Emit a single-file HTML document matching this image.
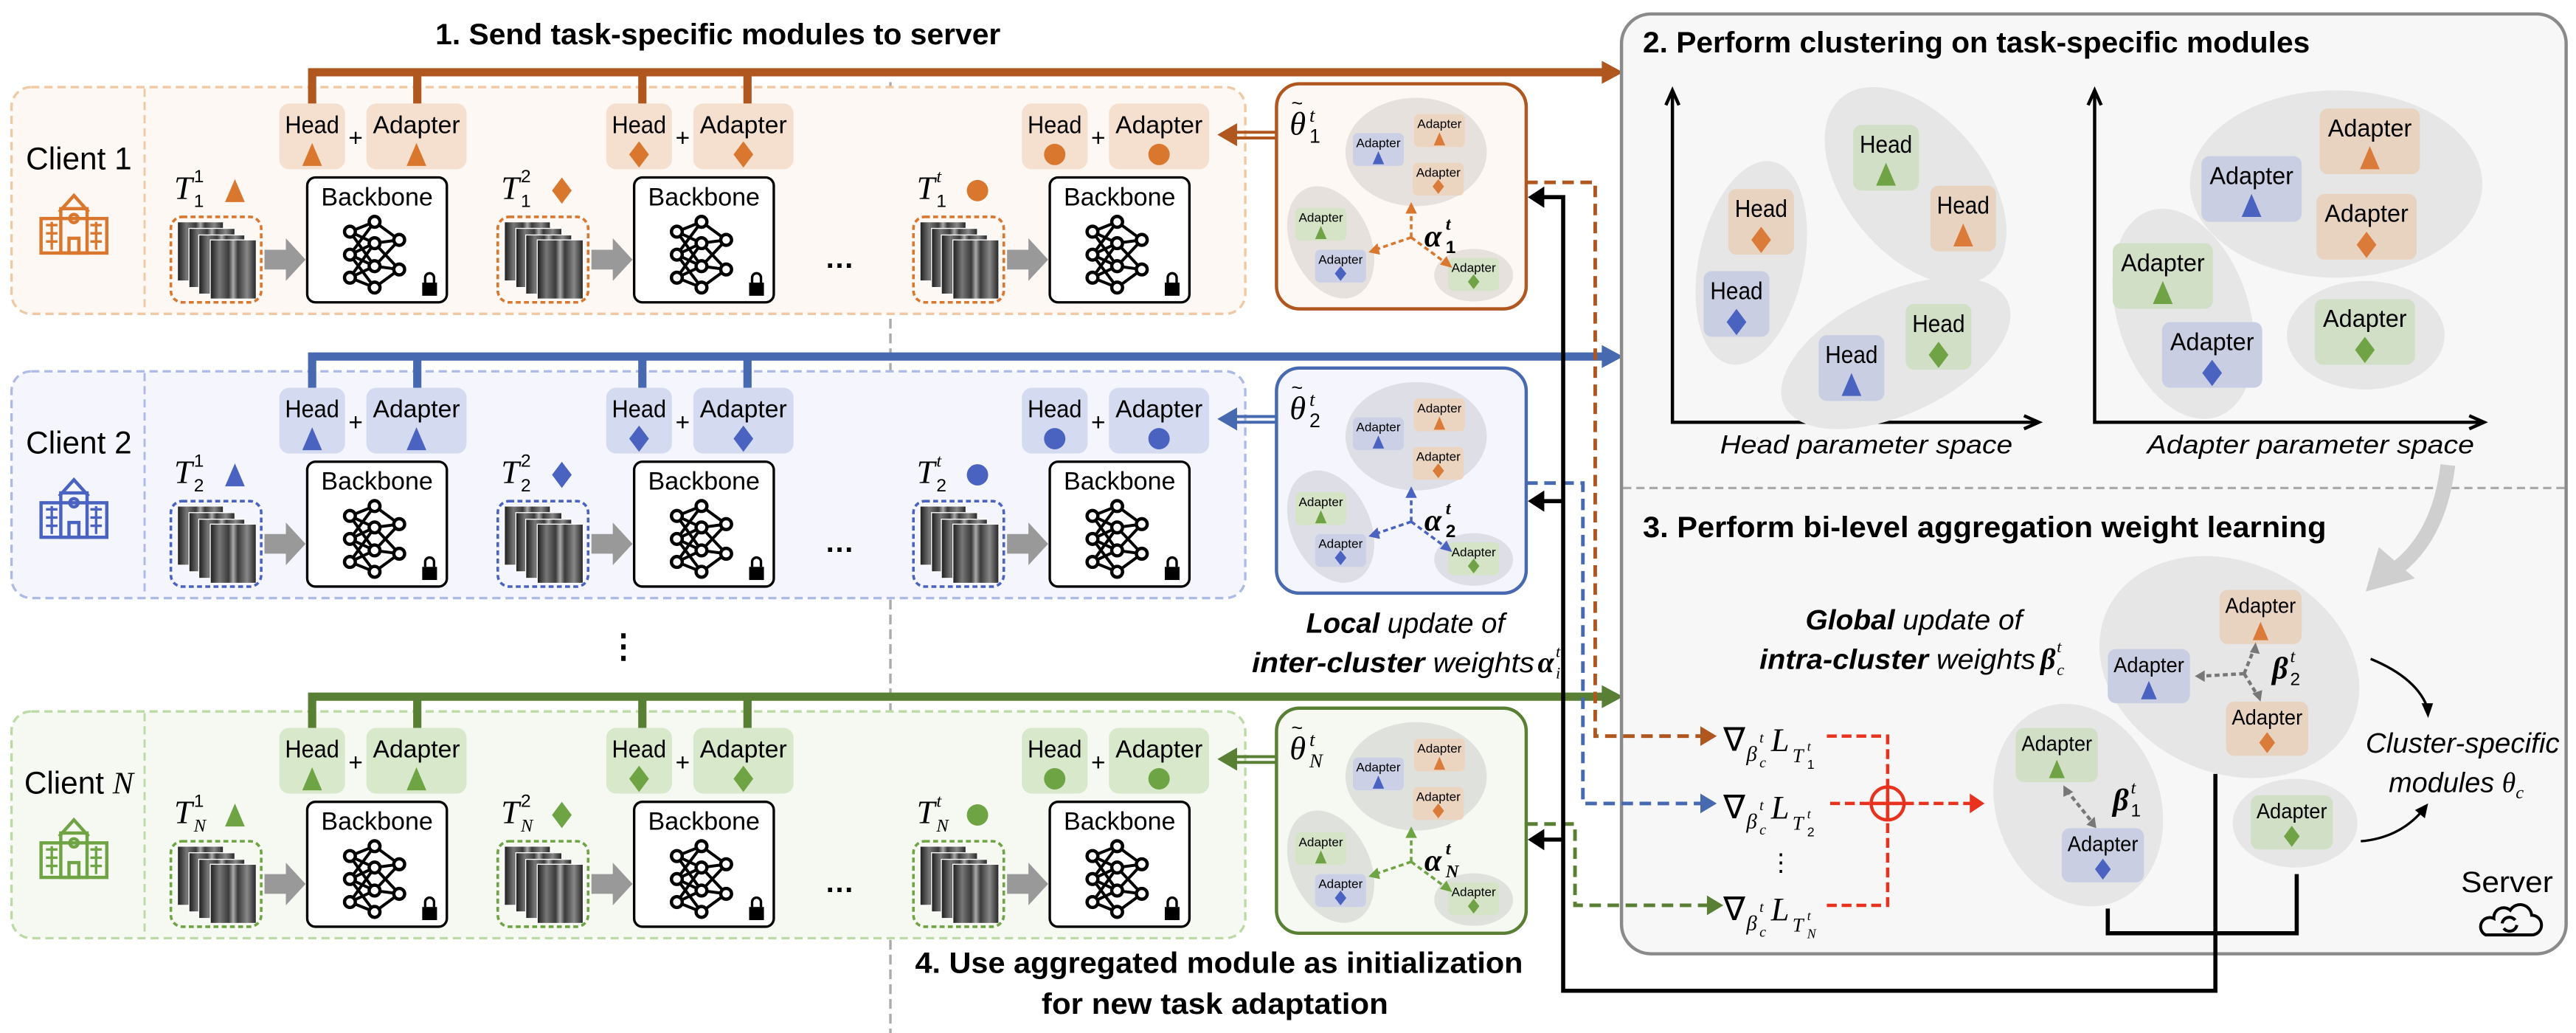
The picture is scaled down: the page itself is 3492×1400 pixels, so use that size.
<!DOCTYPE html>
<html><head><meta charset="utf-8"><style>
html,body{margin:0;padding:0;background:#fff;}
svg{display:block;}
text{font-family:"Liberation Sans",sans-serif;fill:#000;}
.s{font-family:"Liberation Serif",serif;font-style:italic;}
</style></head><body>
<svg xmlns="http://www.w3.org/2000/svg" width="3492" height="1400" viewBox="0 0 1568 628.7" preserveAspectRatio="none">
<defs>
<linearGradient id="xr" x1="0" y1="0" x2="1" y2="0">
<stop offset="0" stop-color="#1a1a1a"/><stop offset="0.2" stop-color="#777"/><stop offset="0.4" stop-color="#3a3a3a"/><stop offset="0.5" stop-color="#aaa"/><stop offset="0.6" stop-color="#3a3a3a"/><stop offset="0.8" stop-color="#888"/><stop offset="1" stop-color="#222"/>
</linearGradient>
<path id="tri" d="M0 -7 L6 7 L-6 7Z"/>
<path id="dia" d="M0 -8 L6 0 L0 8 L-6 0Z"/>
<path id="stri" d="M0 -4 L3.5 4 L-3.5 4Z"/>
<path id="sdia" d="M0 -4.5 L3.5 0 L0 4.5 L-3.5 0Z"/>
<g id="net" stroke="#000" stroke-width="1.8" fill="none">
<path d="M-16 -14 L-1 -20 M-16 -14 L-1 -7 M-16 -14 L-1 7 M-16 0 L-1 -20 M-16 0 L-1 -7 M-16 0 L-1 7 M-16 0 L-1 20 M-16 14 L-1 7 M-16 14 L-1 20 M-16 14 L-1 -7 M-1 -20 L14 -9 M-1 -7 L14 -9 M-1 -7 L14 9 M-1 7 L14 -9 M-1 7 L14 9 M-1 20 L14 9"/>
<g fill="#fff" stroke-width="2"><circle cx="-16" cy="-14" r="3.3"/><circle cx="-16" cy="0" r="3.3"/><circle cx="-16" cy="14" r="3.3"/><circle cx="-1" cy="-20" r="3.3"/><circle cx="-1" cy="-7" r="3.3"/><circle cx="-1" cy="7" r="3.3"/><circle cx="-1" cy="20" r="3.3"/><circle cx="14" cy="-9" r="3.3"/><circle cx="14" cy="9" r="3.3"/></g>
</g>
<g id="base">
<rect x="170" y="10" width="40" height="40" rx="6" style="fill:var(--bf)"/>
<text x="190" y="28" font-size="15" text-anchor="middle" textLength="33" lengthAdjust="spacingAndGlyphs">Head</text>
<text x="216.5" y="36" font-size="15" text-anchor="middle">+</text>
<rect x="223" y="10" width="61" height="40" rx="6" style="fill:var(--bf)"/>
<text x="253.5" y="28" font-size="15" text-anchor="middle" textLength="53" lengthAdjust="spacingAndGlyphs">Adapter</text>
<rect x="108" y="82" width="28" height="36" fill="url(#xr)" stroke="#fff" stroke-width="0.6"/>
<rect x="115" y="86" width="28" height="36" fill="url(#xr)" stroke="#fff" stroke-width="0.6"/>
<rect x="121" y="90" width="28" height="36" fill="url(#xr)" stroke="#fff" stroke-width="0.6"/>
<rect x="128" y="93" width="28" height="36" fill="url(#xr)" stroke="#fff" stroke-width="0.6"/>
<rect x="104" y="79" width="55" height="52" rx="7" fill="none" style="stroke:var(--sh)" stroke-width="1.6" stroke-dasharray="3 2"/>
<polygon points="161,99 174,99 174,92 186,105 174,118 174,111 161,111" fill="#999"/>
<rect x="187" y="55" width="85" height="76" rx="5" fill="#fff" stroke="#000" stroke-width="1.5"/>
<text x="229.5" y="72" font-size="15.5" text-anchor="middle" textLength="68" lengthAdjust="spacingAndGlyphs">Backbone</text>
<use href="#net" transform="translate(229,102)"/>
<rect x="257" y="119" width="9" height="8" fill="#000"/>
<path d="M258.8 119 v-3 a2.7 2.7 0 0 1 5.4 0 v3" stroke="#000" stroke-width="1.5" fill="none"/>
</g>
<g id="madp">
<rect x="0" y="0" width="31" height="20" rx="3"/>
<text x="15.5" y="8.5" font-size="7.5" text-anchor="middle" textLength="27" lengthAdjust="spacingAndGlyphs">Adapter</text>
</g>
<g id="row">
<rect x="7" y="0" width="751" height="138" rx="12" style="fill:var(--pf);stroke:var(--ps)" stroke-width="1.5" stroke-dasharray="5 3"/>
<line x1="88" y1="1" x2="88" y2="137" style="stroke:var(--ps)" stroke-width="1.3" stroke-dasharray="5 3"/>
<path d="M190 11 V-9 H978 M254 11 V-9 M391 11 V-9 M455 11 V-9" style="stroke:var(--bus)" stroke-width="5" fill="none"/>
<polygon points="975,-16 988,-9 975,-2" style="fill:var(--bus)"/>
<g transform="translate(0,0)"><use href="#base"/><use href="#tri" x="190" y="41" style="fill:var(--sh)"/><use href="#tri" x="253.5" y="41" style="fill:var(--sh)"/><use href="#tri" x="143" y="63" style="fill:var(--sh)"/></g>
<g transform="translate(199,0)"><use href="#base"/><use href="#dia" x="190" y="41" style="fill:var(--sh)"/><use href="#dia" x="253.5" y="41" style="fill:var(--sh)"/><use href="#dia" x="143" y="63" style="fill:var(--sh)"/></g>
<text x="511" y="110" font-size="18" text-anchor="middle" font-weight="bold">…</text>
<g transform="translate(452,0)"><use href="#base"/><circle cx="190" cy="41" r="6.5" style="fill:var(--sh)"/><circle cx="253.5" cy="41" r="6.5" style="fill:var(--sh)"/><circle cx="143" cy="63" r="6.5" style="fill:var(--sh)"/></g>
<g style="stroke:var(--sh)" fill="none" stroke-width="2">
<path d="M36 76 L45 66 L54 76"/><rect x="37" y="74" width="16" height="27"/>
<rect x="25" y="80" width="40" height="21"/>
<path d="M28 84 h7 M28 89 h7 M28 94 h7 M55 84 h7 M55 89 h7 M55 94 h7 M31.5 82 v17 M58.5 82 v17" stroke-width="1.5"/>
<rect x="42" y="92" width="6" height="9"/>
<circle cx="45" cy="80" r="2.5"/>
</g>
<path d="M750 27.5 H777 M750 31 H777" style="stroke:var(--bus)" stroke-width="1.8"/>
<polygon points="741,29 753,22 753,36" style="fill:var(--bus)"/>
<rect x="777" y="-2" width="152" height="137" rx="14" style="fill:var(--pf);stroke:var(--bus)" stroke-width="2"/>
<ellipse cx="862" cy="39.5" rx="43" ry="33" fill="#000" fill-opacity="0.09"/>
<ellipse cx="810" cy="94.5" rx="24" ry="36" transform="rotate(-25 810 94.5)" fill="#000" fill-opacity="0.09"/>
<ellipse cx="897" cy="114.5" rx="24" ry="16" fill="#000" fill-opacity="0.09"/>
<use href="#madp" x="823.5" y="28" fill="#cbd0e6"/><use href="#stri" x="839" y="43" fill="#4a63c0"/>
<use href="#madp" x="860.7" y="16.5" fill="#ecd5c0"/><use href="#stri" x="876.2" y="31.5" fill="#db7b39"/>
<use href="#madp" x="860" y="46" fill="#ecd5c0"/><use href="#sdia" x="875.5" y="60.5" fill="#db7b39"/>
<use href="#madp" x="788.5" y="73.5" fill="#d5e3c6"/><use href="#stri" x="804" y="88.5" fill="#6fa345"/>
<use href="#madp" x="800.5" y="99" fill="#cbd0e6"/><use href="#sdia" x="816" y="113.5" fill="#4a63c0"/>
<use href="#madp" x="881.5" y="104" fill="#d5e3c6"/><use href="#sdia" x="897" y="118.5" fill="#6fa345"/>
<path d="M859 91.5 L859 74 M859 91.5 L837 99 M859 91.5 L880 107" style="stroke:var(--sh)" stroke-width="1.6" stroke-dasharray="3 2" fill="none"/>
<polygon points="859,70 855.5,77 862.5,77" style="fill:var(--sh)"/>
<polygon points="833,100.5 838.5,95 840,102" style="fill:var(--sh)"/>
<polygon points="884,110 876.5,108 880.5,103" style="fill:var(--sh)"/>
<text x="785" y="29" class="s" font-size="20">θ</text><text x="786" y="14" font-size="12" font-family="Liberation Serif">~</text>
</g>
</defs>

<line x1="542" y1="50" x2="542" y2="629" stroke="#aaa" stroke-width="1.5" stroke-dasharray="6 3"/>

<text x="265" y="27" font-size="18" font-weight="bold" textLength="344" lengthAdjust="spacingAndGlyphs">1. Send task-specific modules to server</text>

<g transform="translate(0,53)" style="--pf:#fdf8f3;--ps:#efc9a3;--bus:#b0561f;--sh:#d9772f;--bf:#f5e0cf">
<use href="#row"/>
<text x="48" y="50" font-size="19" text-anchor="middle">Client 1</text>
<text x="106" y="68" class="s" font-size="20">T</text><text x="118" y="58" font-size="11">1</text><text x="118" y="73" font-size="11">1</text>
<text x="305" y="68" class="s" font-size="20">T</text><text x="317" y="58" font-size="11">2</text><text x="317" y="73" font-size="11">1</text>
<text x="558" y="68" class="s" font-size="20">T</text><text x="570" y="58" font-size="11" class="s">t</text><text x="570" y="73" font-size="11">1</text>
<text x="797" y="21" class="s" font-size="12">t</text><text x="797" y="34" font-size="12">1</text>
<text x="867" y="97" font-size="19" font-weight="bold" class="s">α</text><text x="880" y="87" font-size="11" font-weight="bold" class="s">t</text><text x="880" y="101" font-size="11" font-weight="bold">1</text>
</g>
<g transform="translate(0,226)" style="--pf:#f5f6fd;--ps:#aebae6;--bus:#4669b0;--sh:#4a63c0;--bf:#d4dbf0">
<use href="#row"/>
<text x="48" y="50" font-size="19" text-anchor="middle">Client 2</text>
<text x="106" y="68" class="s" font-size="20">T</text><text x="118" y="58" font-size="11">1</text><text x="118" y="73" font-size="11">2</text>
<text x="305" y="68" class="s" font-size="20">T</text><text x="317" y="58" font-size="11">2</text><text x="317" y="73" font-size="11">2</text>
<text x="558" y="68" class="s" font-size="20">T</text><text x="570" y="58" font-size="11" class="s">t</text><text x="570" y="73" font-size="11">2</text>
<text x="797" y="21" class="s" font-size="12">t</text><text x="797" y="34" font-size="12">2</text>
<text x="867" y="97" font-size="19" font-weight="bold" class="s">α</text><text x="880" y="87" font-size="11" font-weight="bold" class="s">t</text><text x="880" y="101" font-size="11" font-weight="bold">2</text>
</g>
<text x="379.5" y="400" font-size="20" text-anchor="middle" font-weight="bold">⋮</text>
<g transform="translate(0,433)" style="--pf:#f6f9f2;--ps:#bcdaa5;--bus:#587f33;--sh:#6ea443;--bf:#d8e8cb">
<use href="#row"/>
<text x="48" y="50" font-size="19" text-anchor="middle">Client <tspan class="s" font-family="Liberation Serif">N</tspan></text>
<text x="106" y="68" class="s" font-size="20">T</text><text x="118" y="58" font-size="11">1</text><text x="118" y="73" font-size="11" class="s">N</text>
<text x="305" y="68" class="s" font-size="20">T</text><text x="317" y="58" font-size="11">2</text><text x="317" y="73" font-size="11" class="s">N</text>
<text x="558" y="68" class="s" font-size="20">T</text><text x="570" y="58" font-size="11" class="s">t</text><text x="570" y="73" font-size="11" class="s">N</text>
<text x="797" y="21" class="s" font-size="12">t</text><text x="797" y="34" font-size="12" class="s">N</text>
<text x="867" y="97" font-size="19" font-weight="bold" class="s">α</text><text x="880" y="87" font-size="11" font-weight="bold" class="s">t</text><text x="880" y="101" font-size="11" font-weight="bold" class="s">N</text>
</g>

<text x="795" y="385" font-size="17" font-style="italic" textLength="121" lengthAdjust="spacingAndGlyphs"><tspan font-weight="bold">Local</tspan> update of</text>
<text x="762" y="409" font-size="17" font-style="italic" textLength="172" lengthAdjust="spacingAndGlyphs"><tspan font-weight="bold">inter-cluster</tspan> weights</text>
<text x="936" y="409" font-size="18" font-weight="bold" class="s">α</text><text x="947" y="400" font-size="10" class="s">t</text><text x="947" y="413" font-size="10" class="s">i</text>

<text x="557" y="592" font-size="18" font-weight="bold" textLength="370" lengthAdjust="spacingAndGlyphs">4. Use aggregated module as initialization</text>
<text x="634" y="617" font-size="18" font-weight="bold" textLength="211" lengthAdjust="spacingAndGlyphs">for new task adaptation</text>

<rect x="987" y="8.5" width="575" height="572" rx="18" fill="#f7f7f7" stroke="#8a8a8a" stroke-width="2"/>
<line x1="988" y1="297" x2="1561" y2="297" stroke="#aaa" stroke-width="1.5" stroke-dasharray="5 3"/>
<text x="1000" y="32" font-size="18" font-weight="bold" textLength="406" lengthAdjust="spacingAndGlyphs">2. Perform clustering on task-specific modules</text>
<text x="1000" y="327" font-size="18" font-weight="bold" textLength="416" lengthAdjust="spacingAndGlyphs">3. Perform bi-level aggregation weight learning</text>

<g stroke="#000" stroke-width="2" fill="none">
<path d="M1018 56 V257 H1240"/><path d="M1014 64 L1018 55 L1022 64 M1232 253 L1241 257 L1232 261"/>
<path d="M1275 56 V257 H1511"/><path d="M1271 64 L1275 55 L1279 64 M1503 253 L1512 257 L1503 261"/>
</g>
<text x="1047" y="276" font-size="16" font-style="italic" textLength="178" lengthAdjust="spacingAndGlyphs">Head parameter space</text>
<text x="1307" y="276" font-size="16" font-style="italic" textLength="199" lengthAdjust="spacingAndGlyphs">Adapter parameter space</text>

<g fill="#e6e6e6">
<ellipse cx="1066" cy="160" rx="32" ry="63" transform="rotate(12 1066 160)"/>
<ellipse cx="1166" cy="113" rx="70" ry="42" transform="rotate(50 1166 113)"/>
<ellipse cx="1154" cy="215" rx="75" ry="37" transform="rotate(-25 1154 215)"/>
<ellipse cx="1422" cy="112" rx="89" ry="57"/>
<ellipse cx="1329" cy="191" rx="40" ry="66" transform="rotate(-18 1329 191)"/>
<ellipse cx="1440" cy="204" rx="48" ry="33"/>
</g>
<g font-size="15" text-anchor="middle">
<rect x="1052" y="115" width="40" height="40" rx="5" fill="#e8d3c1"/><text x="1072" y="132" textLength="32" lengthAdjust="spacingAndGlyphs">Head</text><use href="#dia" x="1072" y="146" fill="#db7b39"/>
<rect x="1037" y="165" width="40" height="40" rx="5" fill="#c9cee2"/><text x="1057" y="182" textLength="32" lengthAdjust="spacingAndGlyphs">Head</text><use href="#dia" x="1057" y="196" fill="#4a63c0"/>
<rect x="1128" y="76" width="40" height="40" rx="5" fill="#d2dfc7"/><text x="1148" y="93" textLength="32" lengthAdjust="spacingAndGlyphs">Head</text><use href="#tri" x="1148" y="106" fill="#6fa345"/>
<rect x="1175" y="113" width="40" height="40" rx="5" fill="#e8d3c1"/><text x="1195" y="130" textLength="32" lengthAdjust="spacingAndGlyphs">Head</text><use href="#tri" x="1195" y="143" fill="#db7b39"/>
<rect x="1107" y="204" width="40" height="40" rx="5" fill="#c9cee2"/><text x="1127" y="221" textLength="32" lengthAdjust="spacingAndGlyphs">Head</text><use href="#tri" x="1127" y="234" fill="#4a63c0"/>
<rect x="1160" y="185" width="40" height="40" rx="5" fill="#d2dfc7"/><text x="1180" y="202" textLength="32" lengthAdjust="spacingAndGlyphs">Head</text><use href="#dia" x="1180" y="216" fill="#6fa345"/>
<rect x="1412" y="66" width="61" height="40" rx="5" fill="#e8d3c1"/><text x="1442.5" y="83" textLength="51" lengthAdjust="spacingAndGlyphs">Adapter</text><use href="#tri" x="1442.5" y="96" fill="#db7b39"/>
<rect x="1340" y="95" width="61" height="40" rx="5" fill="#c9cee2"/><text x="1370.5" y="112" textLength="51" lengthAdjust="spacingAndGlyphs">Adapter</text><use href="#tri" x="1370.5" y="125" fill="#4a63c0"/>
<rect x="1410" y="118" width="61" height="40" rx="5" fill="#e8d3c1"/><text x="1440.5" y="135" textLength="51" lengthAdjust="spacingAndGlyphs">Adapter</text><use href="#dia" x="1440.5" y="149" fill="#db7b39"/>
<rect x="1286" y="148" width="61" height="40" rx="5" fill="#d2dfc7"/><text x="1316.5" y="165" textLength="51" lengthAdjust="spacingAndGlyphs">Adapter</text><use href="#tri" x="1316.5" y="178" fill="#6fa345"/>
<rect x="1316" y="196" width="61" height="40" rx="5" fill="#c9cee2"/><text x="1346.5" y="213" textLength="51" lengthAdjust="spacingAndGlyphs">Adapter</text><use href="#dia" x="1346.5" y="227" fill="#4a63c0"/>
<rect x="1409" y="182" width="61" height="40" rx="5" fill="#d2dfc7"/><text x="1439.5" y="199" textLength="51" lengthAdjust="spacingAndGlyphs">Adapter</text><use href="#dia" x="1439.5" y="213" fill="#6fa345"/>
</g>

<path d="M1490 283 Q1485 325 1460 345" stroke="#cfcfcf" stroke-width="9" fill="none"/>
<polygon points="1440,360 1448,333 1470,352" fill="#cfcfcf"/>

<text x="1099" y="383" font-size="17" font-style="italic" textLength="132" lengthAdjust="spacingAndGlyphs"><tspan font-weight="bold">Global</tspan> update of</text>
<text x="1071" y="407" font-size="17" font-style="italic" textLength="168" lengthAdjust="spacingAndGlyphs"><tspan font-weight="bold">intra-cluster</tspan> weights</text>
<text x="1242" y="407" font-size="18" font-weight="bold" class="s">β</text><text x="1252" y="397" font-size="10" class="s">t</text><text x="1252" y="411" font-size="10" class="s">c</text>

<g fill="#e6e6e6">
<ellipse cx="1357" cy="406" rx="82" ry="64" transform="rotate(25 1357 406)"/>
<ellipse cx="1265" cy="490" rx="50" ry="63" transform="rotate(-20 1265 490)"/>
<ellipse cx="1397" cy="501" rx="38" ry="27"/>
</g>
<g font-size="13" text-anchor="middle">
<rect x="1351" y="359" width="50" height="33" rx="5" fill="#e8d3c1"/><text x="1376" y="373" textLength="43" lengthAdjust="spacingAndGlyphs">Adapter</text><use href="#tri" transform="translate(1376,384) scale(0.8)" fill="#db7b39"/>
<rect x="1283" y="395" width="50" height="33" rx="5" fill="#c9cee2"/><text x="1308" y="409" textLength="43" lengthAdjust="spacingAndGlyphs">Adapter</text><use href="#tri" transform="translate(1308,420) scale(0.8)" fill="#4a63c0"/>
<rect x="1355" y="427" width="50" height="33" rx="5" fill="#e8d3c1"/><text x="1380" y="441" textLength="43" lengthAdjust="spacingAndGlyphs">Adapter</text><use href="#dia" transform="translate(1380,452) scale(0.8)" fill="#db7b39"/>
<rect x="1227" y="443" width="50" height="33" rx="5" fill="#d2dfc7"/><text x="1252" y="457" textLength="43" lengthAdjust="spacingAndGlyphs">Adapter</text><use href="#tri" transform="translate(1252,468) scale(0.8)" fill="#6fa345"/>
<rect x="1255" y="504" width="50" height="33" rx="5" fill="#c9cee2"/><text x="1280" y="518" textLength="43" lengthAdjust="spacingAndGlyphs">Adapter</text><use href="#dia" transform="translate(1280,529) scale(0.8)" fill="#4a63c0"/>
<rect x="1370" y="484" width="50" height="33" rx="5" fill="#d2dfc7"/><text x="1395" y="498" textLength="43" lengthAdjust="spacingAndGlyphs">Adapter</text><use href="#dia" transform="translate(1395,509) scale(0.8)" fill="#6fa345"/>
</g>
<g stroke="#777" stroke-width="2" stroke-dasharray="3 2" fill="none">
<path d="M1366 410 L1340 411.5 M1366 410 L1372 395 M1366 410 L1374 423"/>
<path d="M1258 481 L1274 501"/>
</g>
<g fill="#777">
<polygon points="1336,411.5 1342,408 1342,415"/><polygon points="1373,391 1369.5,397 1375.5,398"/><polygon points="1376,427 1371,422 1377,420"/>
<polygon points="1256,478 1256,485 1262,482"/><polygon points="1276,504 1270,502 1275,497"/>
</g>
<text x="1383" y="413" font-size="19" font-weight="bold" class="s">β</text><text x="1394" y="403" font-size="11" class="s">t</text><text x="1394" y="417" font-size="11">2</text>
<text x="1286" y="493" font-size="19" font-weight="bold" class="s">β</text><text x="1297" y="483" font-size="11" class="s">t</text><text x="1297" y="497" font-size="11">1</text>

<text x="1440" y="458" font-size="17" font-style="italic" textLength="118" lengthAdjust="spacingAndGlyphs">Cluster-specific</text>
<text x="1454" y="482" font-size="17" font-style="italic">modules <tspan class="s">θ</tspan><tspan font-size="11" dy="4" class="s">c</tspan></text>
<path d="M1443 401 Q1472 413 1478 432" stroke="#000" stroke-width="1.5" fill="none"/><polygon points="1478,437 1474,428 1481,428"/>
<path d="M1437 512 Q1460 510 1474 494" stroke="#000" stroke-width="1.5" fill="none"/><polygon points="1478,489 1476,498 1470,493"/>

<text x="1498" y="543" font-size="18" textLength="56" lengthAdjust="spacingAndGlyphs">Server</text>
<g stroke="#000" stroke-width="1.8" fill="none">
<path d="M1513 569 H1541 a6 6 0 0 0 0 -12 a7 7 0 0 0 -13 -3 a6 6 0 0 0 -10 5 a5 5 0 0 0 -5 10z"/>
<path d="M1523 562 a4.5 4.5 0 0 1 8 -2 M1532 563 a4.5 4.5 0 0 1 -8 2"/>
</g>

<g>
<text x="1049" y="457" font-size="20" font-family="Liberation Serif">∇</text><text x="1063" y="463" font-size="13" class="s">β</text><text x="1071" y="452" font-size="9" class="s">t</text><text x="1071" y="467" font-size="9" class="s">c</text><text x="1078" y="457" font-size="20" class="s">L</text><text x="1091" y="464" font-size="12" class="s">T</text><text x="1100" y="457" font-size="8" class="s">t</text><text x="1100" y="468" font-size="8">1</text>
<text x="1049" y="498" font-size="20" font-family="Liberation Serif">∇</text><text x="1063" y="504" font-size="13" class="s">β</text><text x="1071" y="493" font-size="9" class="s">t</text><text x="1071" y="508" font-size="9" class="s">c</text><text x="1078" y="498" font-size="20" class="s">L</text><text x="1091" y="505" font-size="12" class="s">T</text><text x="1100" y="498" font-size="8" class="s">t</text><text x="1100" y="509" font-size="8">2</text>
<text x="1084" y="530" font-size="15" text-anchor="middle">⋮</text>
<text x="1049" y="560" font-size="20" font-family="Liberation Serif">∇</text><text x="1063" y="566" font-size="13" class="s">β</text><text x="1071" y="555" font-size="9" class="s">t</text><text x="1071" y="570" font-size="9" class="s">c</text><text x="1078" y="560" font-size="20" class="s">L</text><text x="1091" y="567" font-size="12" class="s">T</text><text x="1100" y="560" font-size="8" class="s">t</text><text x="1100" y="571" font-size="8" class="s">N</text>
</g>

<g stroke="#e8321e" stroke-width="2" fill="none" stroke-dasharray="6 3">
<path d="M1112 448 H1149 V551 H1112"/><path d="M1114 489 H1200"/>
</g>
<circle cx="1149" cy="489" r="10" stroke="#e8321e" stroke-width="2" fill="none"/>
<path d="M1139 489 H1159 M1149 479 V499" stroke="#e8321e" stroke-width="2"/>
<polygon points="1208,489 1199,483 1199,495" fill="#e8321e"/>

<g fill="none" stroke-width="2.2" stroke-dasharray="7 4">
<path d="M929 111 H971 V448 H1036" stroke="#b0561f"/>
<path d="M929 294 H963.5 V489 H1036" stroke="#4669b0"/>
<path d="M929 501.5 H958.7 V551 H1040" stroke="#587f33"/>
</g>
<polygon points="1045,448 1035,442 1035,454" fill="#b0561f"/>
<polygon points="1045,489 1035,483 1035,495" fill="#4669b0"/>
<polygon points="1049,551 1039,545 1039,557" fill="#587f33"/>

<g stroke="#000" stroke-width="2.5" fill="none">
<path d="M1348.5 471 V603 H951.5 V120 H938"/>
<path d="M951.5 305 H938 M951.5 511 H938"/>
<path d="M1283 553 V568 H1398 V532"/>
</g>
<polygon points="930,120 940,113.5 940,126.5"/>
<polygon points="930,305 940,298.5 940,311.5"/>
<polygon points="930,511 940,504.5 940,517.5"/>
</svg>
</body></html>
